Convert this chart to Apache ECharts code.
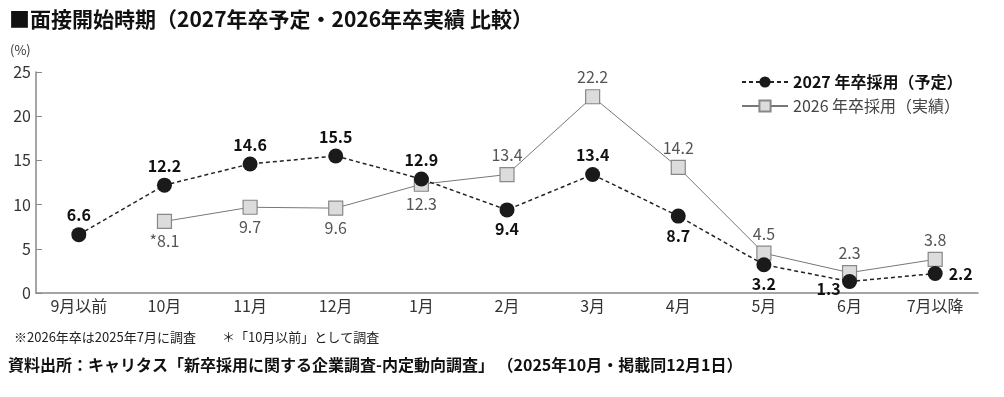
<!DOCTYPE html>
<html><head><meta charset="utf-8">
<script src="https://cdn.jsdelivr.net/npm/echarts@6/dist/echarts.min.js"></script>
<style>html,body{margin:0;padding:0;background:#fff}#c{width:1004px;height:397px}</style>
</head><body><div id="c"></div>
<script>
const categories = ['9月以前','10月','11月','12月','1月','2月','3月','4月','5月','6月','7月以降'];
const plan2027 = [6.6, 12.2, 14.6, 15.5, 12.9, 9.4, 13.4, 8.7, 3.2, 1.3, 2.2];
const actual2026 = [null, 8.1, 9.7, 9.6, 12.3, 13.4, 22.2, 14.2, 4.5, 2.3, 3.8];
const actualPrefix = ['', '*', '', '', '', '', '', '', '', '', ''];
const yTicks = [0, 5, 10, 15, 20, 25];
const seriesNames = ['2027 年卒採用（予定）', '2026 年卒採用（実績）'];

const FONT = '"Noto Sans CJK JP", "Noto Sans", sans-serif';
const pos2027 = ['top','top','top','top','top','bottom','top','bottom','bottom','bottom','right'];
const off2027 = [[0,0],[0,0],[0,0],[0,0],[0,0],[0,0],[0,0],[0,0],[0,0],[-21,-12],[2,0]];
const pos2026 = [null,'bottom','bottom','bottom','bottom','top','top','top','top','top','top'];

const d2027 = plan2027.map((v,i)=>({value:v, label:{position:pos2027[i], offset:off2027[i]}}));
const d2026 = actual2026.map((v,i)=>v==null?null:({value:v, label:{position:pos2026[i]||'top'}}));

const chart = echarts.init(document.getElementById('c'));
chart.setOption({
  animation:false,
  textStyle:{fontFamily:FONT},
  title:{text:'■面接開始時期（2027年卒予定・2026年卒実績 比較）', left:4, top:4,
    textStyle:{fontFamily:FONT, fontSize:21, fontWeight:'bold', color:'#111'}},
  graphic:[
    {type:'text', left:10, top:44, style:{text:'(%)', font:'13px '+FONT, fill:'#333'}},
    {type:'text', left:14, top:331, style:{text:'※2026年卒は2025年7月に調査　　＊「10月以前」として調査', font:'13px '+FONT, fill:'#222'}},
    {type:'text', left:8, top:357, style:{text:'資料出所：キャリタス「新卒採用に関する企業調査-内定動向調査」 （2025年10月・掲載同12月1日）', font:'bold 16px '+FONT, fill:'#111'}}
  ],
  legend:{orient:'vertical', left:736, top:69, itemWidth:46, itemHeight:14, itemGap:8,
    data:[{name:seriesNames[0], textStyle:{fontWeight:'bold', color:'#111'}},
          {name:seriesNames[1], textStyle:{fontWeight:'normal', color:'#444'}}],
    textStyle:{fontFamily:FONT, fontSize:16}},
  grid:{left:36, right:26, top:72, bottom:104},
  xAxis:{type:'category', data:categories, boundaryGap:true,
    axisLine:{lineStyle:{color:'#888', width:1.5}},
    axisTick:{inside:true, length:5, lineStyle:{color:'#888'}},
    axisLabel:{fontFamily:FONT, fontSize:16, color:'#333', margin:5}},
  yAxis:{type:'value', min:0, max:25, interval:5,
    axisLine:{show:true, lineStyle:{color:'#888', width:1.5}},
    axisTick:{show:true, inside:true, length:6, lineStyle:{color:'#888'}},
    splitLine:{show:false},
    axisLabel:{fontFamily:FONT, fontSize:16, color:'#333', margin:5,
      formatter:v=>yTicks.includes(v)?String(v):''}},
  series:[
    {name:seriesNames[1], type:'line', data:d2026, z:2,
      symbol:'rect', symbolSize:14,
      lineStyle:{color:'#777', width:1},
      itemStyle:{color:'#dcdcdc', borderColor:'#888', borderWidth:1.2},
      label:{show:true, fontFamily:FONT, fontSize:16, color:'#555', distance:4,
        formatter:p=>actualPrefix[p.dataIndex]+p.value.toFixed(1)}},
    {name:seriesNames[0], type:'line', data:d2027, z:3,
      symbol:'circle', symbolSize:15,
      lineStyle:{color:'#222', width:1.5, type:[4,3]},
      itemStyle:{color:'#1a1a1a', borderColor:'#1a1a1a', borderWidth:0},
      label:{show:true, fontFamily:FONT, fontSize:16, fontWeight:'bold', color:'#111', distance:4,
        formatter:p=>p.value.toFixed(1)}}
  ]
});
</script></body></html>
